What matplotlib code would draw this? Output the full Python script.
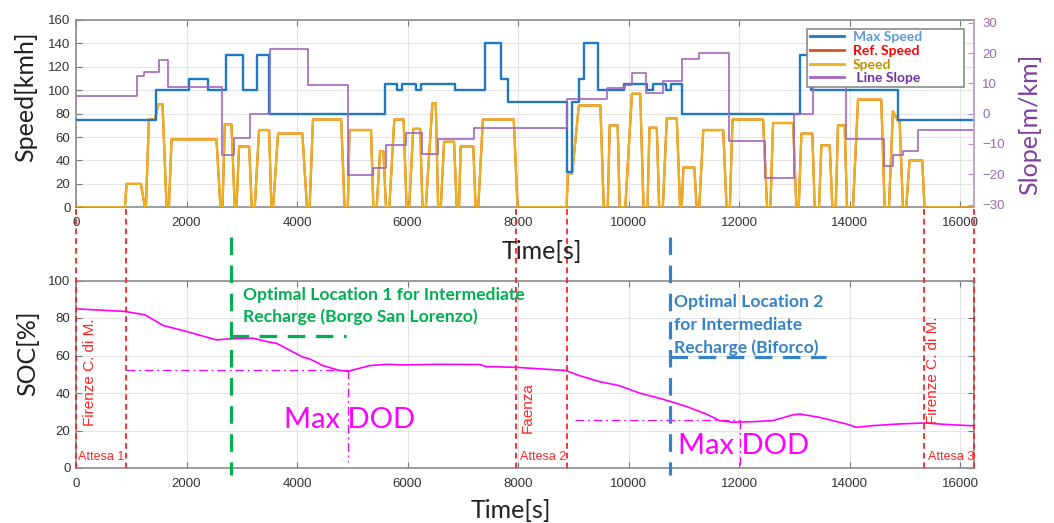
import matplotlib
matplotlib.use("Agg")
import matplotlib.pyplot as plt
import matplotlib.transforms as mtransforms
from matplotlib.lines import Line2D

# ---------------- data ----------------
max_speed_t = [0, 1446, 2048, 2380, 2711, 3024, 3283, 3488, 5592, 5808, 5898, 6150, 6252,
               6853, 7399, 7694, 7820, 8877, 8979, 9099, 9189, 9441, 9910, 10330, 10438,
               10679, 10763, 10973, 13108, 13300, 14873, 16250]
max_speed_v = [75, 100, 110, 100, 130, 100, 130, 80, 105, 100, 105, 100, 105,
               100, 140, 110, 90, 30, 90, 110, 140, 100, 105, 100, 105,
               100, 105, 80, 130, 100, 75, 75]

speed_t = [0, 886, 916, 1175, 1247, 1265, 1319, 1428, 1488, 1566, 1639, 1681, 1729, 2542,
           2614, 2651, 2693, 2813, 2873, 2904, 2952, 3133, 3181, 3235, 3313, 3494, 3536,
           3566, 3657,
           4096, 4180, 4228, 4288, 4799, 4859, 4919, 4949, 5339, 5381, 5441, 5502, 5562,
           5610, 5670, 5760, 5928, 5982, 6030, 6102, 6228, 6270, 6330, 6450, 6510, 6553,
           6601, 6661, 6841, 6889, 6931, 6961, 7189, 7231, 7279, 7363, 7922, 7990,
           8877, 8901, 8979, 9099, 9489, 9550, 9622, 9658, 9802, 9838, 9940, 10060, 10210,
           10270, 10342, 10378, 10510, 10553, 10619, 10691, 10871, 10931, 10961, 10991,
           11189, 11231, 11279, 11351, 11712, 11772, 11832, 11880,
           12434, 12506, 12566, 12614, 12976, 13036, 13078, 13127, 13325, 13367, 13446,
           13488, 13639, 13687, 13747, 13789, 13910, 13952, 14060, 14151, 14572, 14633,
           14711, 14783, 14873, 14904, 14964, 15024, 15084, 15313, 15355, 16250]
speed_v = [0, 0, 20, 20, 0, 0, 75, 75, 88, 88, 0, 0, 58, 58,
           0, 0, 71, 71, 0, 0, 52, 52, 0, 0, 66, 66, 0,
           0, 63,
           63, 0, 0, 75, 75, 0, 0, 66, 66, 0, 0, 48, 48,
           0, 0, 75, 75, 0, 0, 67, 67, 0, 0, 89, 89, 0,
           0, 56, 56, 0, 0, 52, 52, 0, 0, 75, 75, 0,
           0, 29, 29, 87, 87, 0, 0, 70, 70, 0, 0, 97, 97,
           0, 0, 68, 68, 0, 0, 76, 76, 0, 0, 34,
           34, 0, 0, 66, 66, 0, 0, 75,
           75, 0, 0, 72, 72, 0, 0, 63, 63, 0, 0,
           53, 53, 0, 0, 70, 70, 0, 0, 92, 92, 0,
           0, 82, 74, 74, 0, 0, 40, 40, 0, 0]

ref_speed_t = list(speed_t)
ref_speed_v = list(speed_v)

slope_t = [0, 1096, 1229, 1506, 1669, 2633, 2861, 3145, 3506, 4198, 4919, 5369, 5610, 5970,
           6270, 6553, 7201, 8877, 9610, 9940, 10060, 10318, 10619, 10961, 11279, 11814,
           12464, 12988, 13337, 13940, 14614, 14783, 14964, 15235, 16250]
slope_v = [5.7, 12.5, 13.6, 17.7, 8.9, -13.7, -7.9, 0, 21.3, 9.3, -20.1, -17.9, -10.4, -6.4,
           -13.2, -8.5, -4.6, 4.9, 8.4, 9.3, 13.4, 6.8, 10.7, 18, 20, -9.1,
           -21.2, 0, 12, -8.5, -17.2, -13.5, -12.4, -5.5, -5.5]

soc_t = [0, 886, 1247, 1578, 2000, 2542, 2783, 3205, 3506, 3627, 4108, 4229, 4470, 4771,
         4922, 5313, 5614, 5916, 6518, 7301, 7422, 7958, 8864, 9106, 9468, 9831, 10193,
         10556, 10798, 11039, 11402, 11644, 11885, 12248, 12610, 12973, 13094, 13456,
         13940, 14121, 14423, 14906, 15359, 15813, 16250]
soc_v = [84.9, 83.5, 81.7, 76, 72.8, 68.3, 68.9, 69.2, 67.1, 66.5, 59.1, 58.2, 54.6, 52,
         51.6, 54.6, 55.3, 55, 55.3, 55.2, 54.1, 53.7, 52, 49.3, 46.1, 43.9, 40,
         37.2, 35.1, 32.9, 28.8, 25.3, 24.4, 24.7, 25.3, 28.3, 28.8, 27,
         23.5, 21.7, 22.6, 23.5, 24, 23.1, 22.5]

time_ticks = [0, 2000, 4000, 6000, 8000, 10000, 12000, 14000, 16000]
speed_ticks = [0, 20, 40, 60, 80, 100, 120, 140, 160]
slope_ticks = [-30, -20, -10, 0, 10, 20, 30]
soc_ticks = [0, 20, 40, 60, 80, 100]

stop_times = [0, 905, 7960, 8880, 15350, 16250]
stop_names = ["Firenze C. di M.", "Faenza", "Firenze C. di M."]
stop_name_t = [253, 8169, 15511]
stop_name_soc = [51, 32, 52]
wait_names = ["Attesa 1", "Attesa 2", "Attesa 3"]
wait_t = [45, 8030, 15420]

dod1_t, dod1_soc = 4922, 52.3
dod1_start = 905
dod2_t, dod2_soc = 12018, 25.8
dod2_start = 9033

opt1_t, opt1_soc, opt1_end = 2801, 70.6, 4892
opt2_t, opt2_soc, opt2_end = 10755, 59.0, 13577

# ---------------- figure ----------------
W, H = 1054, 523
fig = plt.figure(figsize=(W / 100, H / 100), dpi=100)


def fx(px):
    return px / W


def fy(py):
    return 1 - py / H


AX_L, AX_R = 76, 974
ax1 = fig.add_axes([fx(AX_L), fy(207.3), fx(AX_R) - fx(AX_L), fy(20) - fy(207.3)])
ax1r = ax1.twinx()
ax2 = fig.add_axes([fx(AX_L), fy(468), fx(AX_R) - fx(AX_L), fy(280.5) - fy(468)])

C_BLUE = "#1f78c4"
C_ORANGE = "#D95319"
C_YELLOW = "#EDB120"
C_PURPLE = "#a365bd"
C_MAG = "#FF00FF"
C_RED = "#FF2222"
C_GREEN = "#00B050"
C_BLUE2 = "#3583c6"
TICK_FONT = "Liberation Sans"
LBL_FONT = "Lato"

XMAX = 16250

# top plot
ax1.plot(ref_speed_t, ref_speed_v, color=C_ORANGE, lw=1.6, zorder=2)
ax1.plot(speed_t, speed_v, color=C_YELLOW, lw=1.6, zorder=3)
ax1.plot(max_speed_t, max_speed_v, drawstyle="steps-post", color=C_BLUE, lw=1.7, zorder=4)
ax1r.plot(slope_t, slope_v, drawstyle="steps-post", color=C_PURPLE, lw=1.2)

ax1.set_xlim(0, XMAX)
ax1.set_ylim(0, 160)
ax1r.set_ylim(-30.9, 30.9)
ax1.set_xticks(time_ticks)
ax1.set_yticks(speed_ticks)
ax1r.set_yticks(slope_ticks)
ax1.grid(True, color="#e4e4e4", lw=0.8)
ax1.set_axisbelow(True)

# bottom plot
ax2.plot(soc_t, soc_v, color=C_MAG, lw=1.2, zorder=4)
ax2.set_xlim(0, XMAX)
ax2.set_ylim(0, 100)
ax2.set_xticks(time_ticks)
ax2.set_yticks(soc_ticks)
ax2.grid(True, color="#e4e4e4", lw=0.8)
ax2.set_axisbelow(True)

for ax in (ax1, ax2):
    ax.tick_params(axis="both", direction="in", length=4, color="#777777",
                   labelcolor="#333333", labelsize=9.5, top=True)
    ax.tick_params(axis="x", pad=7)
    ax.tick_params(axis="y", pad=4)
    for lbl in ax.get_xticklabels() + ax.get_yticklabels():
        lbl.set_family(TICK_FONT)
    for s in ax.spines.values():
        s.set_color("#8c8c8c")
        s.set_linewidth(1.2)
ax2.tick_params(axis="y", right=True)
ax1.tick_params(axis="y", right=False)

ax1r.tick_params(axis="y", direction="in", length=4, color="#b48cc8",
                 labelcolor="#9a68b4", labelsize=9.5, pad=6)
for lbl in ax1r.get_yticklabels():
    lbl.set_family(TICK_FONT)
for name, s in ax1r.spines.items():
    s.set_visible(name == "right")
ax1r.spines["right"].set_color("#c9a8d8")
ax1r.spines["right"].set_linewidth(1.2)

# station (red dashed) lines spanning both panels
trans = mtransforms.blended_transform_factory(ax2.transData, fig.transFigure)
for t in stop_times:
    ax2.plot([t, t], [fy(209), fy(468)], transform=trans, color=C_RED, lw=1.3,
             ls=(0, (3.2, 2.2)), clip_on=False, zorder=6)

for name, t, s in zip(stop_names, stop_name_t, stop_name_soc):
    ax2.text(t, s, name, rotation=90, ha="center", va="center", color=C_RED,
             fontsize=11, family=TICK_FONT, zorder=7)
for name, t in zip(wait_names, wait_t):
    ax2.text(t, 6, name, ha="left", va="center", color=C_RED, fontsize=9,
             family=TICK_FONT, zorder=7)

# Max DOD dash-dot guides
dd = (0, (7, 3, 1.5, 3))
ax2.plot([dod1_start, dod1_t], [dod1_soc, dod1_soc], color=C_MAG, lw=0.9, ls=dd, zorder=3)
ax2.plot([dod1_t, dod1_t], [dod1_soc, 3], color=C_MAG, lw=0.9, ls=dd, zorder=3)
ax2.plot([dod2_start, dod2_t], [dod2_soc, dod2_soc], color=C_MAG, lw=0.9, ls=dd, zorder=3)
ax2.plot([dod2_t, dod2_t], [dod2_soc, 0], color=C_MAG, lw=0.9, ls=dd, zorder=3)
ax2.text(4952, 25.5, "Max DOD", ha="center", va="center", color=C_MAG, fontsize=21,
         family=LBL_FONT, zorder=5)
ax2.text(12082, 11.5, "Max DOD", ha="center", va="center", color=C_MAG, fontsize=21,
         family=LBL_FONT, zorder=5)

# optimal recharge locations
dash = (0, (5.5, 3.3))
ax2.plot([opt1_t, opt1_t], [fy(237), fy(475)], transform=trans, color=C_GREEN, lw=2.3,
         ls=dash, clip_on=False, zorder=6)
ax2.plot([opt1_t, opt1_end], [opt1_soc, opt1_soc], color=C_GREEN, lw=2.3, ls=dash, zorder=6)
ax2.plot([opt2_t, opt2_t], [fy(237), fy(475)], transform=trans, color=C_BLUE2, lw=2.3,
         ls=dash, clip_on=False, zorder=6)
ax2.plot([opt2_t, opt2_end], [opt2_soc, opt2_soc], color=C_BLUE2, lw=2.3, ls=dash, zorder=6)

OPT_FS = 12.6
ax2.text(3024, 92.3, "Optimal Location 1 for Intermediate", ha="left", va="center",
         color=C_GREEN, fontsize=OPT_FS, fontweight="bold", family=LBL_FONT, zorder=7)
ax2.text(3024, 80.7, "Recharge (Borgo San Lorenzo)", ha="left", va="center",
         color=C_GREEN, fontsize=OPT_FS, fontweight="bold", family=LBL_FONT, zorder=7)
for txt, s in zip(["Optimal Location 2", "for Intermediate", "Recharge (Biforco)"],
                  [88.8, 76.4, 64.4]):
    ax2.text(10828, s, txt, ha="left", va="center", color=C_BLUE2, fontsize=OPT_FS,
             fontweight="bold", family=LBL_FONT, zorder=7)

# axis labels
fig.text(fx(26), fy(97), "Speed[kmh]", rotation=90, ha="center", va="center",
         fontsize=18, family=LBL_FONT, color="#222222")
fig.text(fx(1030), fy(124), "Slope[m/km]", rotation=90, ha="center", va="center",
         fontsize=18, family=LBL_FONT, color="#7E3F9E")
fig.text(fx(542), fy(252), "Time[s]", ha="center", va="center",
         fontsize=18, family=LBL_FONT, color="#222222")
fig.text(fx(28), fy(353.5), "SOC[%]", rotation=90, ha="center", va="center",
         fontsize=18, family=LBL_FONT, color="#222222")
fig.text(fx(511), fy(511), "Time[s]", ha="center", va="center",
         fontsize=18, family=LBL_FONT, color="#222222")

# legend
handles = [Line2D([], [], color=C_BLUE, lw=2), Line2D([], [], color=C_ORANGE, lw=2),
           Line2D([], [], color=C_YELLOW, lw=2), Line2D([], [], color=C_PURPLE, lw=2)]
labels = ["Max Speed", "Ref. Speed", "Speed", " Line Slope"]
label_colors = ["#5B9BD5", "#FF0000", "#BF9000", "#7030A0"]
leg = fig.legend(handles, labels, loc="upper left",
                 bbox_to_anchor=(fx(807), fy(88.5), fx(964) - fx(807), fy(28.5) - fy(88.5)),
                 bbox_transform=fig.transFigure, mode="expand", borderaxespad=0,
                 prop={"family": LBL_FONT, "weight": "bold", "size": 10},
                 labelspacing=0.12, borderpad=0.2, handlelength=2.45, handletextpad=0.65,
                 fancybox=False, framealpha=1, edgecolor="#8a8a8a")
leg.get_frame().set_linewidth(1.2)
for t, c in zip(leg.get_texts(), label_colors):
    t.set_color(c)

fig.savefig("out.png", dpi=100)
